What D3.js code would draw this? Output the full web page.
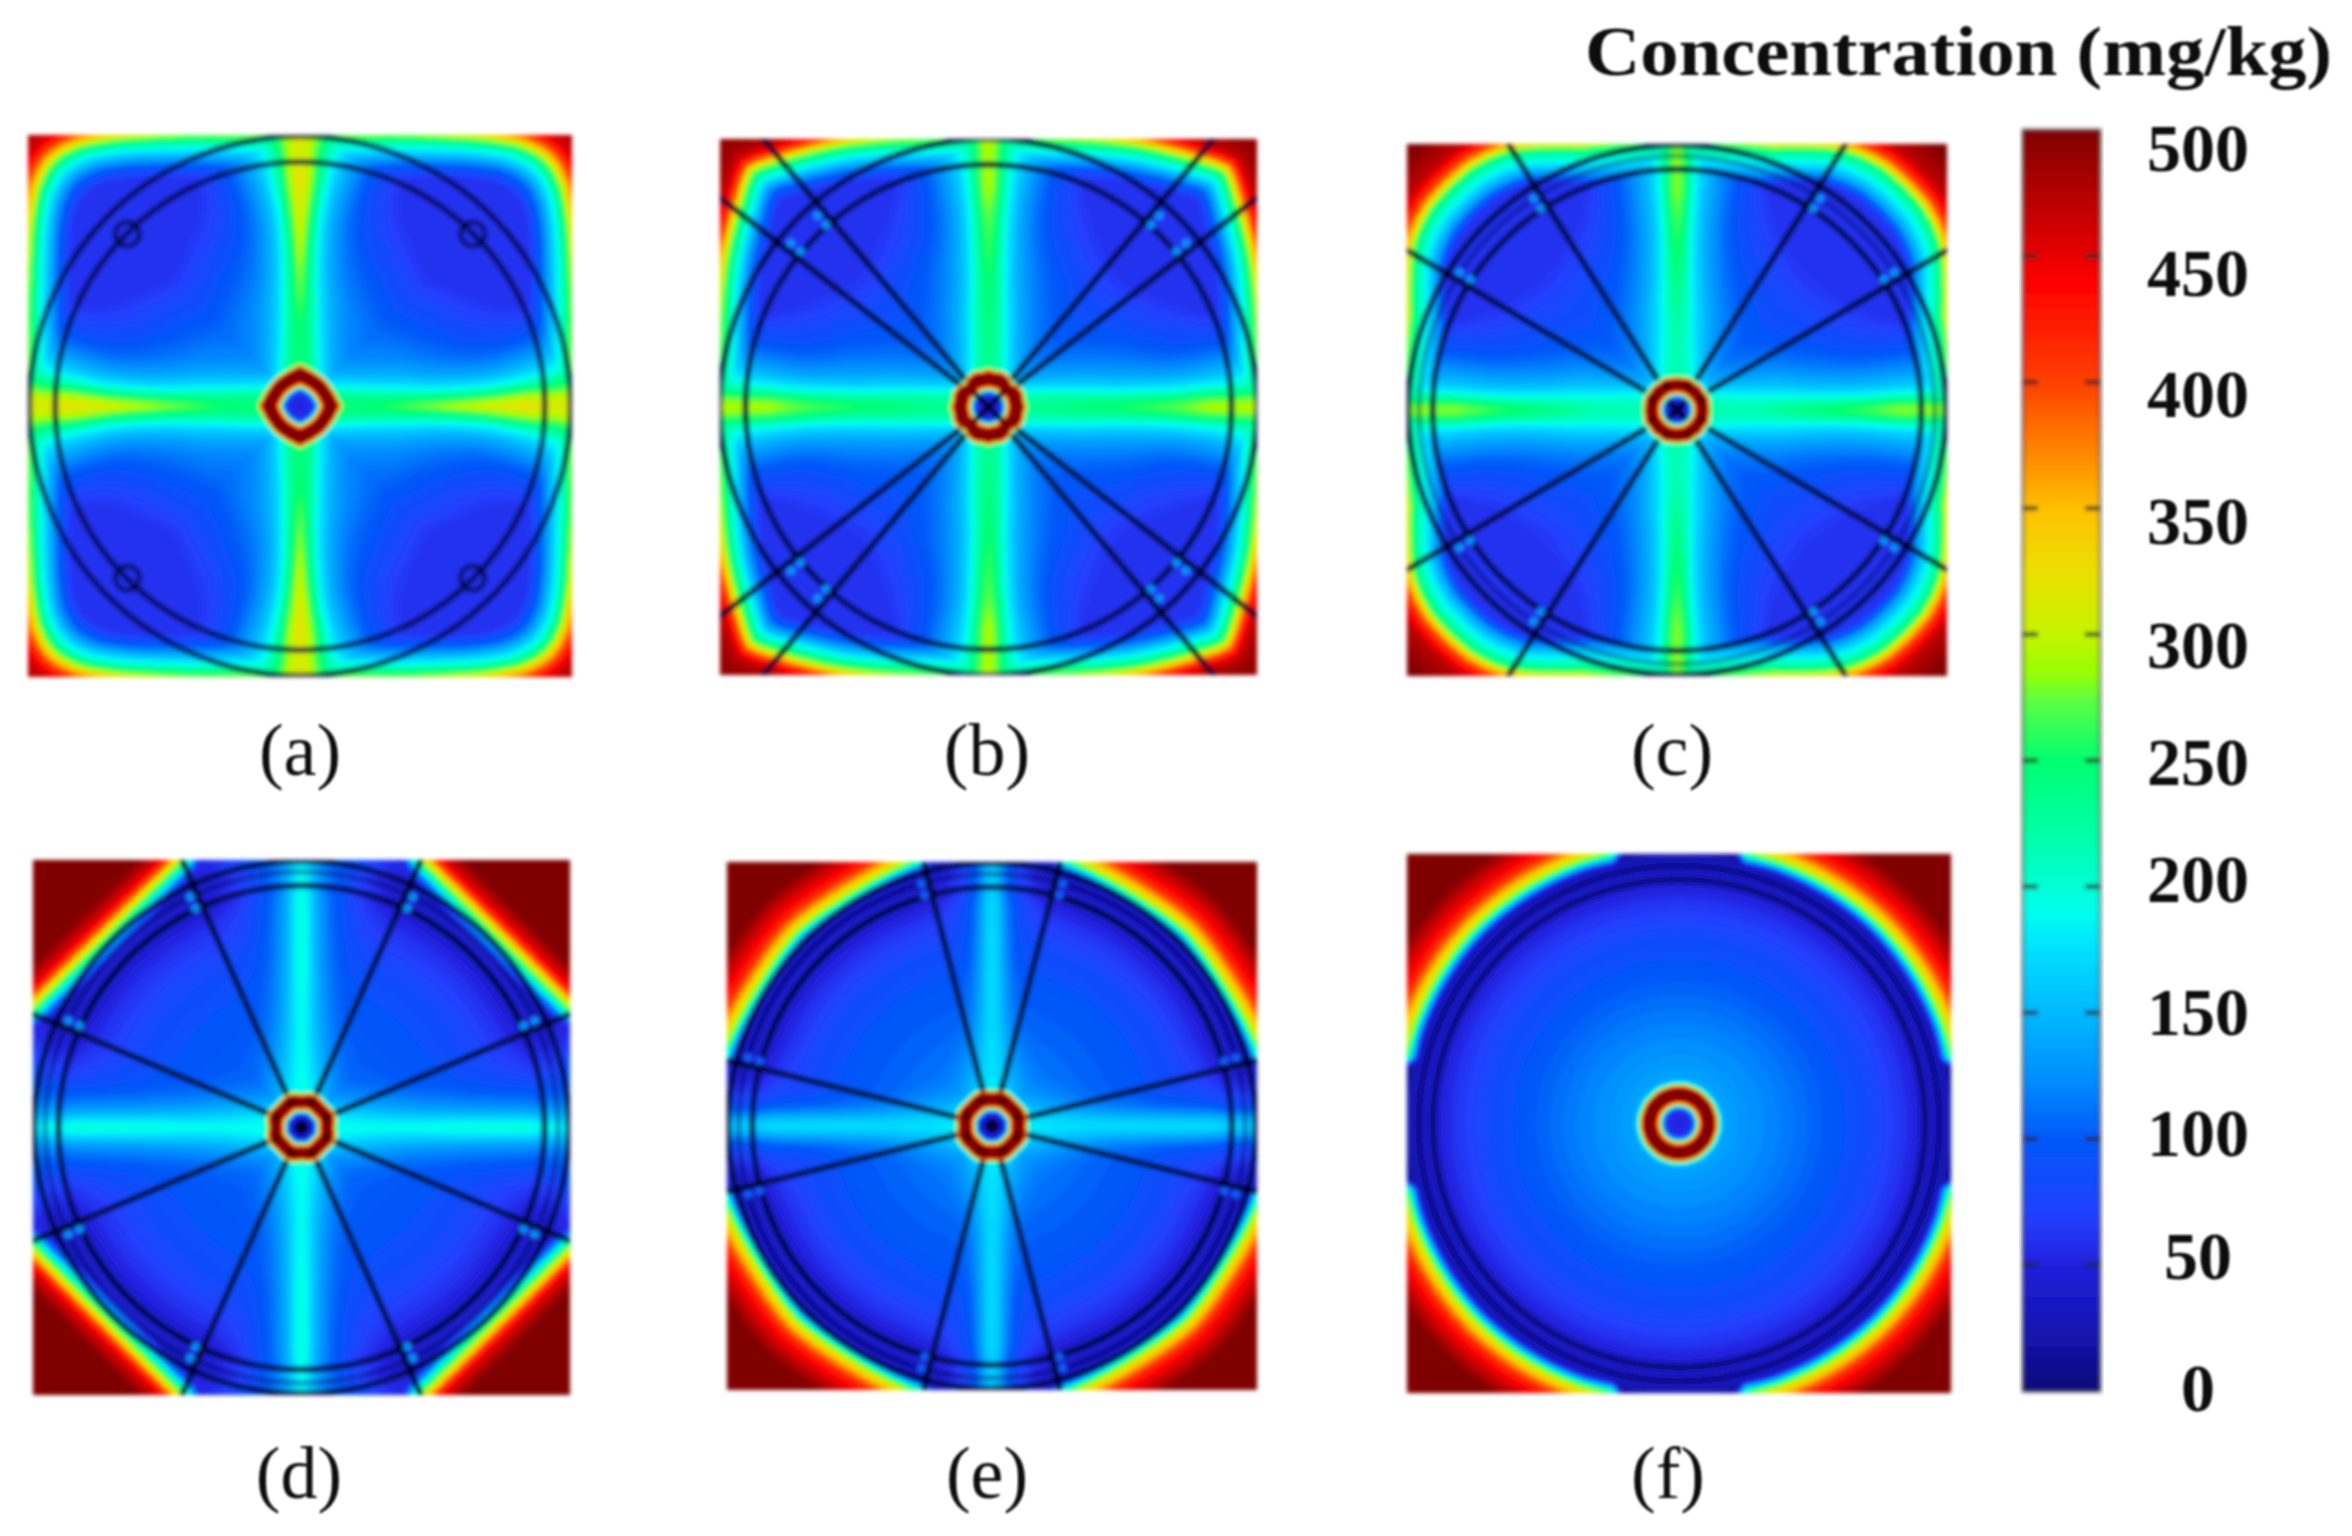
<!DOCTYPE html>
<html><head><meta charset="utf-8">
<script src="https://cdn.jsdelivr.net/npm/d3@7/dist/d3.min.js"></script>
<style>html,body{margin:0;padding:0;background:#fff}svg{display:block}</style>
</head><body><svg id="c" width="2352" height="1536"></svg>
<script>
// ---------- chart text ----------
const panelLabels=["(a)","(b)","(c)","(d)","(e)","(f)"];
const legendTitle="Concentration (mg/kg)";
const legendTicks=[0,50,100,150,200,250,300,350,400,450,500];
const legendLabelShift=[-3,-8,-5,0,-7,2,11.5,13.5,12,17.5,18];
// ---------- colour bar stops ----------
const colorValues=[0,25,50,70,100,125,150,175,190,200,225,250,275,285,300,325,350,375,400,425,440,450,475,500];
const colorStops=["#0c0a78","#1414b4","#2020dc","#2040ff","#0058f8","#0090ff","#00b8ff","#00e0ff","#00fff0","#00ffd4","#00ffa0","#00ff70","#60ff40","#98ff00","#c4f400","#ece000","#ffc000","#ff8000","#ff4000","#ff1800","#ff0000","#e80000","#b40000","#800000"];
// ---------- shared table axes (fractions of the panel half width) ----------
const radialR=[.14,.25,.4,.55,.7,.82,.88,.905,.93,.955,.98,1.0,1.05,1.15,1.42];
const bandU=[.15,.3,.5,.7,.88,.95,1.0];
const bandV=[0,.025,.05,.08,.12,.17,.24,.33,.45,.65];
const hubQ=[0,.35,.42,.5,.58,.65,.85,.93,.97,1.0,1.06,1.13,1.2];
const hubAngles=[0,11.25,22.5,33.75,45];
// ---------- concentration read per radius ----------
const radialA=[118,112,100,78,55,38,30,27,27,30,36,42,52,70,100];
const radialB=[112,105,95,80,58,44,35,32,33,32,35,40,50,70,100];
const radialC=[108,102,95,80,62,46,36,31,40,34,38,44,56,80,105];
const radialD=[108,104,98,92,78,58,44,30,44,32,38,42,48,55,90];
const radialE=[125,115,105,98,82,60,44,30,42,28,35,32,35,40,50];
const radialF=[140,128,115,100,82,62,48,28,42,24,30,18,8,8,8];
// ---------- extra concentration along the axes: rows bandU, columns bandV ----------
const bandA=[[130,125,100,60,25,8,3,0,0,0],[140,130,100,62,36,18,10,5,0,0],[205,160,120,80,50,32,22,12,3,0],[260,225,175,122,85,58,38,22,14,0],[300,290,265,205,155,118,80,50,24,0],[285,280,255,222,178,145,118,90,50,0],[270,260,245,232,205,180,152,125,80,0]];
const bandB=[[120,115,95,55,25,8,0,0,0,0],[140,130,105,70,40,18,5,0,0,0],[170,150,115,80,52,34,20,10,2,0],[215,195,155,115,80,56,36,20,10,0],[268,252,207,157,122,92,62,36,12,0],[262,252,217,182,152,127,95,63,20,0],[260,245,220,196,176,156,122,85,30,0]];
const bandC=[[110,105,90,60,30,10,0,0,0,0],[120,108,90,68,42,20,6,0,0,0],[160,140,105,75,50,30,15,6,1,0],[205,178,133,98,72,50,28,14,5,0],[260,240,185,140,112,85,60,35,10,0],[252,232,187,152,127,107,77,45,10,0],[242,217,187,162,142,122,90,50,5,0]];
const bandD=[[85,80,65,42,18,4,0,0,0,0],[90,75,55,35,15,4,0,0,0,0],[100,85,58,33,15,3,0,0,0,0],[120,103,70,45,27,12,2,0,0,0],[158,138,103,78,58,38,20,6,0,0],[160,145,115,90,75,60,40,15,0,0],[145,130,110,90,75,60,36,10,0,0]];
const bandE=[[55,50,40,25,10,0,0,0,0,0],[65,55,35,15,3,0,0,0,0,0],[72,58,30,10,0,0,0,0,0,0],[90,76,42,18,5,0,0,0,0,0],[128,108,74,50,30,16,6,0,0,0],[135,120,80,55,35,15,5,0,0,0],[135,120,85,60,40,20,5,0,0,0]];
const bandF=[[0,0,0,0,0,0,0,0,0,0],[0,0,0,0,0,0,0,0,0,0],[0,0,0,0,0,0,0,0,0,0],[0,0,0,0,0,0,0,0,0,0],[0,0,0,0,0,0,0,0,0,0],[0,0,0,0,0,0,0,0,0,0],[0,0,0,0,0,0,0,0,0,0]];
// ---------- where the corner build-up reaches about 250, per angle from the axis ----------
const rimAngleA=[0,5,10,15,20,25,30,35,40,43,45], rimRadiusA=[.99,.992,1.0,1.02,1.05,1.085,1.13,1.185,1.24,1.26,1.265];
const rimAngleB=[0,5,10,15,20,25,30,35,40,43,45], rimRadiusB=[1.0,1.0,1.005,1.02,1.045,1.075,1.11,1.145,1.185,1.215,1.23];
const rimAngleC=[0,10,15,20,25,30,33,36,40,45], rimRadiusC=[1.0,1.005,1.02,1.04,1.08,1.125,1.15,1.165,1.178,1.18];
const rimAngleD=[0,16,20,22,23,25,30,35,40,45], rimRadiusD=[1.3,1.22,1.14,1.105,1.09,1.076,1.047,1.027,1.015,1.011];
const rimAngleE=[0,10,12,14,18,25,30,35,40,45], rimRadiusE=[1.3,1.12,1.07,1.04,1.035,1.025,1.02,1.02,1.025,1.03];
const rimAngleF=[0,8,10,12,14,20,45], rimRadiusF=[1.3,1.16,1.1,1.055,1.024,1.03,1.035];
// ---------- concentration across that build-up ----------
const rimOffsetA=[-.16,-.1,-.06,-.03,0,.03,.06,.1,.15,.2], rimValueA=[60,110,160,200,250,330,400,460,480,490];
const rimOffsetB=[-.14,-.09,-.05,-.025,0,.025,.05,.09,.14], rimValueB=[60,110,170,210,250,320,400,470,490];
const rimOffsetC=[-.14,-.1,-.06,-.03,0,.02,.05,.1,.2], rimValueC=[60,130,180,210,250,320,400,470,500];
const rimOffsetD=[-.07,-.05,-.03,-.015,0,.015,.03,.05,.08,.13], rimValueD=[20,80,140,200,250,300,340,410,460,500];
const rimOffsetE=[-.05,-.035,-.025,-.012,0,.015,.035,.07,.11,.18], rimValueE=[10,50,90,170,250,300,340,410,450,500];
const rimOffsetF=[-.05,-.035,-.025,-.012,0,.015,.035,.07,.11,.18], rimValueF=[8,50,90,170,250,300,340,410,450,500];
// ---------- centre hub ----------
const hubRadiusA=[.152,.14,.135,.132,.132];
const hubRadiusB=[.14,.135,.14,.135,.124];
const hubRadiusC=[.125,.122,.127,.122,.125];
const hubRadiusD=[.124,.13,.134,.128,.124];
const hubRadiusE=[.13,.136,.138,.134,.13];
const hubRadiusF=[.142,.142,.142,.142,.142];
const hubValueA=[50,60,120,300,470,500,500,490,420,260,190,150,0];
const hubValueB=[45,55,120,300,470,500,500,490,420,260,190,150,0];
const hubValueC=[30,50,120,300,470,500,500,490,420,260,190,150,0];
const hubValueD=[15,45,110,290,470,500,500,490,420,260,190,140,0];
const hubValueE=[15,45,110,290,470,500,500,490,420,260,190,150,0];
const hubValueF=[50,60,120,300,470,500,500,490,420,260,190,150,0];
// ---------- drawn structure: angles in degrees from the x axis in one quadrant ----------
const spokeA=[], spokeB=[38,50], spokeC=[31,58], spokeD=[23,66], spokeE=[14,75.5], spokeF=[];
const ringA=[.9,.995], ringB=[.905,1.0], ringC=[.905,.955,.995], ringD=[.905,.955,.995], ringE=[.905,.955,.995], ringF=[.905,.955];
const ringOpacityA=[.75,.75], ringOpacityB=[.9,.9], ringOpacityC=[.9,.3,.9], ringOpacityD=[.9,.3,.9], ringOpacityE=[.9,.3,.9], ringOpacityF=[.45,.3];

const panels=[
 {radial:radialA,band:bandA,rimA:rimAngleA,rimR:rimRadiusA,rimO:rimOffsetA,rimV:rimValueA,hubR:hubRadiusA,hubV:hubValueA,spokes:spokeA,rings:ringA,ringOp:ringOpacityA,x:[28,572],y:[135,677],lx:300,ly:775},
 {radial:radialB,band:bandB,rimA:rimAngleB,rimR:rimRadiusB,rimO:rimOffsetB,rimV:rimValueB,hubR:hubRadiusB,hubV:hubValueB,spokes:spokeB,rings:ringB,ringOp:ringOpacityB,x:[720,1257],y:[139,675],lx:987,ly:775},
 {radial:radialC,band:bandC,rimA:rimAngleC,rimR:rimRadiusC,rimO:rimOffsetC,rimV:rimValueC,hubR:hubRadiusC,hubV:hubValueC,spokes:spokeC,rings:ringC,ringOp:ringOpacityC,x:[1407,1947],y:[144,676],lx:1672,ly:775},
 {radial:radialD,band:bandD,rimA:rimAngleD,rimR:rimRadiusD,rimO:rimOffsetD,rimV:rimValueD,hubR:hubRadiusD,hubV:hubValueD,spokes:spokeD,rings:ringD,ringOp:ringOpacityD,x:[33,570],y:[860,1395],lx:299,ly:1498},
 {radial:radialE,band:bandE,rimA:rimAngleE,rimR:rimRadiusE,rimO:rimOffsetE,rimV:rimValueE,hubR:hubRadiusE,hubV:hubValueE,spokes:spokeE,rings:ringE,ringOp:ringOpacityE,x:[727,1257],y:[862,1390],lx:987,ly:1498},
 {radial:radialF,band:bandF,rimA:rimAngleF,rimR:rimRadiusF,rimO:rimOffsetF,rimV:rimValueF,hubR:hubRadiusF,hubV:hubValueF,spokes:spokeF,rings:ringF,ringOp:ringOpacityF,x:[1407,1951],y:[854,1393],lx:1668,ly:1498}
];

const color=d3.scaleLinear().domain(colorValues).range(colorStops).clamp(true);
const lookup=(xs,ys)=>d3.scaleLinear().domain(xs).range(ys).clamp(true);
const svg=d3.select("#c");
const defs=svg.append("defs");
defs.append("filter").attr("id","soft").attr("x","-5%").attr("y","-5%").attr("width","110%").attr("height","110%").append("feGaussianBlur").attr("stdDeviation",2.1);
defs.append("filter").attr("id","softText").attr("x","-5%").attr("y","-5%").attr("width","110%").attr("height","110%").append("feGaussianBlur").attr("stdDeviation",.8);

// the band table on a fine (u,v) raster, softened with d3.blur2 so its table rows do not show
function bandLookup(tab){
  const M=201, rows=tab.map(r=>lookup(bandV,r)), data=new Float64Array(M*M);
  for(let vi=0;vi<M;vi++){
    const v=vi/(M-1), col=lookup(bandU,rows.map(f=>f(v)));
    for(let ui=0;ui<M;ui++) data[ui*M+vi]=col(ui/(M-1));
  }
  d3.blur2({data,width:M,height:M},1,12);
  return (u,v)=>data[Math.round(u*(M-1))*M+Math.round(v*(M-1))];
}
function field(p){
  const radial=lookup(radialR,p.radial), band=bandLookup(p.band),
        rim=lookup(p.rimA,p.rimR), rimProfile=lookup(p.rimO,p.rimV),
        hubEdge=lookup(hubAngles,p.hubR), hub=lookup(hubQ,p.hubV);
  return (x,y)=>{
    const ax=Math.abs(x), ay=Math.abs(y), u=Math.min(1,Math.max(ax,ay)), v=Math.min(1,Math.min(ax,ay));
    const r=Math.hypot(x,y), th=Math.atan2(v,u)*180/Math.PI;
    const q=r/hubEdge(th);
    if(q<1) return hub(q);
    const bulk=radial(r)+band(u,v);
    return Math.max(bulk,rimProfile(r-rim(th)),hub(q));
  };
}
const N=200;
const thresholds=d3.range(2.5,500,5);
panels.forEach((p,i)=>{
  const sx=d3.scaleLinear().domain([-1,1]).range(p.x), sy=d3.scaleLinear().domain([1,-1]).range(p.y);
  const w=p.x[1]-p.x[0], h=p.y[1]-p.y[0];
  const f=field(p);
  const grid=new Float64Array(N*N);
  for(let j=0;j<N;j++)for(let k=0;k<N;k++){
    grid[j*N+k]=f(-1+2*(k+.5)/N,-1+2*(j+.5)/N);
  }
  const cs=d3.contours().size([N,N]).smooth(true).thresholds(thresholds)(Array.from(grid));
  defs.append("clipPath").attr("id","clip"+i).append("rect").attr("x",p.x[0]).attr("y",p.y[0]).attr("width",w).attr("height",h);
  const g=svg.append("g").attr("filter","url(#soft)");
  g.append("rect").attr("x",p.x[0]).attr("y",p.y[0]).attr("width",w).attr("height",h).attr("fill",color(0));
  const path=d3.geoPath(d3.geoTransform({point(a,b){this.stream.point(p.x[0]+a*w/N,p.y[0]+b*h/N);}}));
  g.append("g").selectAll("path").data(cs).join("path").attr("d",path).attr("fill",d=>color(d.value+2.5));
  const ov=g.append("g").attr("clip-path",`url(#clip${i})`);
  const cx=sx(0), cy=sy(0), rx=w/2, ry=h/2;
  // rings
  ov.selectAll("ellipse.ring").data(p.rings).join("ellipse").attr("class","ring").attr("cx",cx).attr("cy",cy)
    .attr("rx",d=>d*rx).attr("ry",d=>d*ry).attr("fill","none").attr("stroke","#00063a")
    .attr("stroke-width",i===5?7:6).attr("stroke-opacity",(d,j)=>p.ringOp[j]);
  // spokes through all four quadrants
  const rad=Math.PI/180;
  const all=[];
  p.spokes.forEach(a=>[[1,1],[1,-1],[-1,1],[-1,-1]].forEach(s=>all.push({a,s})));
  ov.selectAll("line.spoke").data(all).join("line").attr("class","spoke")
    .attr("x1",d=>sx(d.s[0]*.135*Math.cos(d.a*rad))).attr("y1",d=>sy(d.s[1]*.135*Math.sin(d.a*rad)))
    .attr("x2",d=>sx(d.s[0]*1.6*Math.cos(d.a*rad))).attr("y2",d=>sy(d.s[1]*1.6*Math.sin(d.a*rad)))
    .attr("stroke","#000628").attr("stroke-width",6).attr("stroke-opacity",.95);
  // light dots in the annulus beside each spoke
  const dots=[];
  if(i>0&&i<5) all.forEach(d=>[.91,.956].forEach(r=>{
    const toward=d.a<45?1.7:-1.7;
    dots.push({x:d.s[0]*r*Math.cos((d.a+toward)*rad),y:d.s[1]*r*Math.sin((d.a+toward)*rad)});
  }));
  ov.selectAll("circle.dot").data(dots).join("circle").attr("class","dot").attr("cx",d=>sx(d.x)).attr("cy",d=>sy(d.y)).attr("r",4).attr("fill",i===4?"#1060ff":"#0098ff");
  // four small rods in panel (a)
  if(i===0){
    ov.selectAll("circle.rod").data([[1,1],[1,-1],[-1,1],[-1,-1]]).join("circle").attr("class","rod")
      .attr("cx",d=>sx(d[0]*.635)).attr("cy",d=>sy(d[1]*.635)).attr("r",12).attr("fill","none").attr("stroke","#00063a").attr("stroke-width",5).attr("stroke-opacity",.75);
  }
  // hub marks
  if(i===1||i===2){
    const L=i===1?.055:.035;
    ov.selectAll("line.x").data([[1,1],[1,-1]]).join("line").attr("class","x")
      .attr("x1",d=>sx(-L*d[0])).attr("y1",d=>sy(-L*d[1])).attr("x2",d=>sx(L*d[0])).attr("y2",d=>sy(L*d[1]))
      .attr("stroke","#000420").attr("stroke-width",5.5);
  }
  if(i===3||i===4){ov.append("circle").attr("cx",cx).attr("cy",cy).attr("r",6.5).attr("fill","#000420");}
  if(i>=2&&i<=4){
    ov.selectAll("circle.hd").data(d3.range(8)).join("circle").attr("class","hd")
      .attr("cx",d=>sx(.1*Math.cos((22.5+45*d)*rad))).attr("cy",d=>sy(.1*Math.sin((22.5+45*d)*rad))).attr("r",4).attr("fill","#200000").attr("fill-opacity",.55);
  }
  svg.append("text").attr("x",p.lx).attr("y",p.ly).attr("text-anchor","middle")
    .attr("font-family","'Liberation Serif'").attr("font-size",74).attr("fill","#111").attr("filter","url(#softText)").text(panelLabels[i]);
});

// ---------- legend ----------
const barScale=d3.scaleLinear().domain([0,500]).range([1391,130]);
const barX=[2023,2100];
const bar=svg.append("g").attr("filter","url(#soft)");
bar.selectAll("rect").data(d3.range(0,500,2.5)).join("rect")
  .attr("x",barX[0]).attr("width",barX[1]-barX[0])
  .attr("y",d=>barScale(d+2.5)).attr("height",d=>barScale(d)-barScale(d+2.5)+.6)
  .attr("fill",d=>color(d+1.25));
bar.append("rect").attr("x",barX[0]).attr("y",barScale(500)).attr("width",barX[1]-barX[0]).attr("height",barScale(0)-barScale(500))
  .attr("fill","none").attr("stroke","#333").attr("stroke-opacity",.65).attr("stroke-width",3);
[[barX[0],barX[0]+15],[barX[1]-15,barX[1]]].forEach(([a,b])=>{
  bar.append("g").selectAll("line").data(legendTicks.slice(1,-1)).join("line")
    .attr("x1",a).attr("x2",b).attr("y1",d=>barScale(d)).attr("y2",d=>barScale(d))
    .attr("stroke","#222").attr("stroke-width",4);
});
const axis=svg.append("g").attr("transform","translate(2198,0)").attr("filter","url(#softText)")
  .call(d3.axisRight(barScale).tickValues(legendTicks).tickSize(0).tickPadding(0));
axis.select(".domain").remove();
axis.selectAll("text").attr("x",0).attr("text-anchor","middle").attr("dy",(d,j)=>(legendLabelShift[j]+22)+"px")
  .attr("font-family","'Liberation Serif'").attr("font-weight","bold").attr("font-size",68).attr("fill","#111");
svg.append("text").attr("x",1585).attr("y",75).attr("textLength",747).attr("lengthAdjust","spacingAndGlyphs")
  .attr("font-family","'Liberation Serif'").attr("font-weight","bold").attr("font-size",70).attr("fill","#111").attr("filter","url(#softText)").text(legendTitle);
</script></body></html>
